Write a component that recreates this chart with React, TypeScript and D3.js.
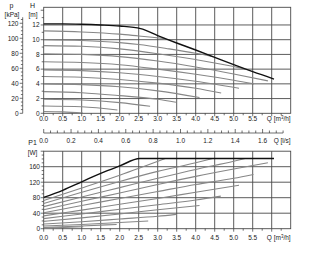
import React from 'react';
import * as d3 from 'd3';

type Pt = [number, number];

// Q [m3/h] , H [m]
const headMax: Pt[] = [[0, 12.15], [0.5, 12.15], [1, 12.1], [1.5, 12.0], [2, 11.85], [2.55, 11.5], [3, 10.55], [3.5, 9.55], [4, 8.6], [4.5, 7.6], [5, 6.6], [5.5, 5.65], [6.06, 4.65]];
const headCurves: Pt[][] = [
  [[0, 11.2], [1, 11.05], [2, 10.75], [2.5, 10.5], [3.2, 10.15]],
  [[0, 10.0], [1, 9.9], [2, 9.6], [2.5, 9.35], [3.3, 8.75], [4, 8.15], [4.45, 7.7]],
  [[0, 9.2], [1, 9.1], [2, 8.75], [3, 8.1], [4, 7.3], [5, 6.35], [5.3, 6.0]],
  [[0, 8.1], [1, 8.0], [2, 7.7], [3, 7.1], [4, 6.3], [5, 5.35], [5.9, 4.4]],
  [[0, 7.0], [1, 6.9], [2, 6.6], [3, 6.0], [4, 5.3], [5, 4.5], [5.53, 4.0]],
  [[0, 5.9], [1, 5.8], [2, 5.5], [3, 5.0], [4, 4.35], [5.14, 3.4]],
  [[0, 5.0], [1, 4.9], [2, 4.6], [3, 4.1], [4, 3.4], [4.67, 2.75]],
  [[0, 4.0], [1, 3.9], [2, 3.6], [3, 3.05], [4.1, 2.15]],
  [[0, 2.95], [1, 2.8], [2, 2.4], [3, 1.9], [3.48, 1.5]],
  [[0, 1.9], [1, 1.8], [2, 1.45], [2.8, 0.95]],
  [[0, 1.0], [1, 0.9], [1.94, 0.45]],
  [[0, 0.25], [0.5, 0.2], [1.03, 0.05]],
];

// Q [m3/h] , P1 [W]
const powerMax: Pt[] = [[0, 81], [0.5, 99], [1, 121], [1.5, 143], [2, 162], [2.53, 181], [6.06, 181]];
const powerCurves: Pt[][] = [
  [[0, 73], [1, 105], [2, 138], [3.2, 181]],
  [[0, 65], [1, 94], [2, 122], [3, 148], [4, 170], [4.45, 181]],
  [[0, 57], [1, 82], [2, 106], [3, 130], [4, 153], [5, 174], [5.3, 181]],
  [[0, 49], [1, 71], [2, 92], [3, 114], [4, 135], [5, 154], [5.9, 170]],
  [[0, 41], [1, 60], [2, 78], [3, 96], [4, 114], [5, 130], [5.52, 140]],
  [[0, 33], [1, 48], [2, 63], [3, 78], [4, 94], [5.14, 112]],
  [[0, 26], [1, 38], [2, 50], [3, 62], [4, 74], [4.66, 84]],
  [[0, 19], [1, 28], [2, 38], [3, 49], [4.1, 60]],
  [[0, 12], [1, 18], [2, 25], [3, 32], [3.48, 37]],
  [[0, 7], [1, 11], [2, 16], [2.75, 20]],
  [[0, 3], [1, 7], [1.92, 11]],
  [[0, 1], [0.5, 3], [1.04, 5]],
];

const qTicks = [0, 0.5, 1, 1.5, 2, 2.5, 3, 3.5, 4, 4.5, 5, 5.5, 6];
const qLabels = ['0.0', '0.5', '1.0', '1.5', '2.0', '2.5', '3.0', '3.5', '4.0', '4.5', '5.0', '5.5'];
const lsLabels = [0, 0.2, 0.4, 0.6, 0.8, 1.0, 1.2, 1.4, 1.6];
const hTicks = [0, 2, 4, 6, 8, 10, 12];
const pTicks = [0, 20, 40, 60, 80, 100, 120];
const p1Ticks = [0, 40, 80, 120, 160];

const font = "'Liberation Sans', Arial, sans-serif";
const grid = '#4a4a4a';
const gray = '#878787';

export default function App() {
  const x = d3.scaleLinear().domain([0, 6.5]).range([43.7, 290.7]);
  const yH = d3.scaleLinear().domain([0, 14.4]).range([113.3, 7.3]);
  const yP = d3.scaleLinear().domain([0, 200]).range([228.7, 151.2]);
  const yKpa = (p: number) => yH(p / 9.81);
  const xLs = (q: number) => x(q * 3.6);

  const lineH = d3.line<Pt>().x(d => x(d[0])).y(d => yH(d[1])).curve(d3.curveMonotoneX);
  const lineP = d3.line<Pt>().x(d => x(d[0])).y(d => yP(d[1])).curve(d3.curveMonotoneX);

  const [x0, x1] = x.range();
  const tH = yH(14.4), bH = yH(0);
  const tP = yP(200), bP = yP(0);
  const lsY = 133;

  const txt = { fontFamily: font, fontSize: 6.5, fill: '#222' } as const;

  return (
    <svg width={309} height={258} style={{ position: 'absolute', left: 0, top: 0, background: '#fff' }}>
      {/* top plot grid */}
      {qTicks.slice(1).map(q => (
        <line key={'gv' + q} x1={x(q)} x2={x(q)} y1={tH} y2={bH} stroke={grid} strokeWidth={0.9} />
      ))}
      {hTicks.slice(1).map(h => (
        <line key={'gh' + h} x1={x0} x2={x1} y1={yH(h)} y2={yH(h)} stroke={grid} strokeWidth={0.9} />
      ))}
      <rect x={x0} y={tH} width={x1 - x0} height={bH - tH} fill="none" stroke={grid} strokeWidth={0.9} />

      {/* bottom plot grid */}
      {qTicks.slice(1).map(q => (
        <line key={'pv' + q} x1={x(q)} x2={x(q)} y1={tP} y2={bP} stroke={grid} strokeWidth={0.9} />
      ))}
      {p1Ticks.slice(1).map(p => (
        <line key={'ph' + p} x1={x0} x2={x1} y1={yP(p)} y2={yP(p)} stroke={grid} strokeWidth={0.9} />
      ))}
      <rect x={x0} y={tP} width={x1 - x0} height={bP - tP} fill="none" stroke={grid} strokeWidth={0.9} />

      {/* curves */}
      {headCurves.map((c, i) => (
        <path key={'hc' + i} d={lineH(c) || ''} fill="none" stroke={gray} strokeWidth={1.1} />
      ))}
      <path d={lineH(headMax) || ''} fill="none" stroke="#111" strokeWidth={1.4} />
      {powerCurves.map((c, i) => (
        <path key={'pc' + i} d={lineP(c) || ''} fill="none" stroke={gray} strokeWidth={1.1} />
      ))}
      <path d={lineP(powerMax) || ''} fill="none" stroke="#111" strokeWidth={1.4} />

      {/* Q axes ticks (top and bottom plots) */}
      {d3.range(0, 26).map(i => {
        const q = i * 0.25;
        const len = i % 2 === 0 ? 3 : 2;
        return (
          <g key={'qt' + i}>
            <line x1={x(q)} x2={x(q)} y1={bH} y2={bH + len} stroke="#333" strokeWidth={0.7} />
            <line x1={x(q)} x2={x(q)} y1={bP} y2={bP + len} stroke="#333" strokeWidth={0.7} />
          </g>
        );
      })}
      {qLabels.map((l, i) => (
        <g key={'ql' + l}>
          <text x={x(qTicks[i])} y={121} textAnchor="middle" {...txt}>{l}</text>
          <text x={x(qTicks[i])} y={240} textAnchor="middle" {...txt}>{l}</text>
        </g>
      ))}
      <text x={x1} y={121} textAnchor="end" {...txt}>Q [m<tspan dy={-2} fontSize={4.5}>3</tspan><tspan dy={2}>/h]</tspan></text>
      <text x={x1} y={240} textAnchor="end" {...txt}>Q [m<tspan dy={-2} fontSize={4.5}>3</tspan><tspan dy={2}>/h]</tspan></text>

      {/* l/s axis */}
      <line x1={x0} x2={xLs(1.75)} y1={lsY} y2={lsY} stroke="#333" strokeWidth={0.7} />
      {d3.range(0, 36).map(i => {
        const q = i * 0.05;
        const len = i % 4 === 0 ? 4 : 2.5;
        return <line key={'ls' + i} x1={xLs(q)} x2={xLs(q)} y1={lsY} y2={lsY - len} stroke="#333" strokeWidth={0.7} />;
      })}
      {lsLabels.map(l => (
        <text key={'lsl' + l} x={xLs(l)} y={142.5} textAnchor="middle" {...txt}>{l.toFixed(1)}</text>
      ))}
      <text x={x1} y={142.5} textAnchor="end" {...txt}>Q [l/s]</text>

      {/* H axis */}
      {d3.range(0, 15).map(h => (
        <line key={'ht' + h} x1={x0} x2={x0 - (h % 2 === 0 ? 3 : 2)} y1={yH(h)} y2={yH(h)} stroke="#333" strokeWidth={0.7} />
      ))}
      {hTicks.map(h => (
        <text key={'hl' + h} x={39.5} y={yH(h) + 2.3} textAnchor="end" {...txt}>{h}</text>
      ))}
      <text x={32.5} y={7.5} textAnchor="middle" {...txt} fontSize={7}>H</text>
      <text x={33} y={17} textAnchor="middle" {...txt}>[m]</text>

      {/* p axis */}
      <line x1={22.7} x2={22.7} y1={yKpa(0)} y2={yKpa(128)} stroke="#333" strokeWidth={0.7} />
      {d3.range(0, 26).map(i => {
        const p = i * 5;
        const len = i % 4 === 0 ? 3 : 1.8;
        return <line key={'pt' + i} x1={22.7} x2={22.7 - len} y1={yKpa(p)} y2={yKpa(p)} stroke="#333" strokeWidth={0.7} />;
      })}
      {pTicks.map(p => (
        <text key={'pl' + p} x={18.5} y={yKpa(p) + 2.3} textAnchor="end" {...txt}>{p}</text>
      ))}
      <text x={11.5} y={7.5} textAnchor="middle" {...txt} fontSize={7}>p</text>
      <text x={12} y={17} textAnchor="middle" {...txt}>[kPa]</text>

      {/* P1 axis */}
      {d3.range(0, 21).map(i => (
        <line key={'p1t' + i} x1={x0} x2={x0 - (i % 4 === 0 ? 3 : 2)} y1={yP(i * 10)} y2={yP(i * 10)} stroke="#333" strokeWidth={0.7} />
      ))}
      {p1Ticks.map(p => (
        <text key={'p1l' + p} x={40} y={yP(p) + 2.3} textAnchor="end" {...txt}>{p}</text>
      ))}
      <text x={32.5} y={144.5} textAnchor="middle" {...txt} fontSize={7}>P1</text>
      <text x={32.5} y={154.5} textAnchor="middle" {...txt}>[W]</text>
    </svg>
  );
}
